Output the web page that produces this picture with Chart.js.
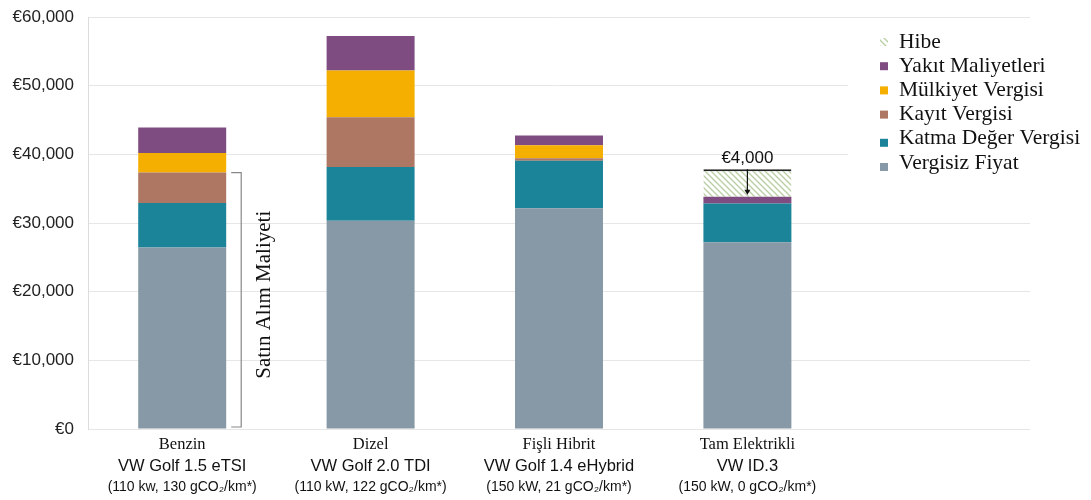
<!DOCTYPE html>
<html>
<head>
<meta charset="utf-8">
<script src="https://cdn.jsdelivr.net/npm/chart.js@4"></script>
<style>
  body { margin: 0; background: #fff; }
  #wrap { width: 1091px; height: 500px; }
</style>
</head>
<body>
<div id="wrap"><canvas id="chart"></canvas></div>
<script>
  // categories (last slot stays empty, the legend sits over it)
  const fuelTypes = ["Benzin", "Dizel", "Fişli Hibrit", "Tam Elektrikli", ""];
  const models = ["VW Golf 1.5 eTSI", "VW Golf 2.0 TDI", "VW Golf 1.4 eHybrid", "VW ID.3", ""];
  const specs = ["(110 kw, 130 gCO₂/km*)", "(110 kW, 122 gCO₂/km*)", "(150 kW, 21 gCO₂/km*)", "(150 kW, 0 gCO₂/km*)", ""];

  // series values, euro
  const vergisizFiyat = [26440, 30310, 32160, 27210, null];
  const katmaDegerVergisi = [6490, 7860, 6890, 5630, null];
  const kayitVergisi = [4420, 7230, 390, 0, null];
  const mulkiyetVergisi = [2850, 6800, 1890, 0, null];
  const yakitMaliyetleri = [3700, 5030, 1410, 1000, null];
  const hibe = [0, 0, 0, 4000, null];

  const yTicks = [0, 10000, 20000, 30000, 40000, 50000, 60000];

  const serif = "'Liberation Serif', 'DejaVu Serif', serif";
  const sans = "'Liberation Sans', Arial, sans-serif";

  // hatch for Hibe
  function makeHatch() {
    const c = document.createElement("canvas");
    c.width = 6; c.height = 6;
    const g = c.getContext("2d");
    g.fillStyle = "#ffffff";
    g.fillRect(0, 0, 6, 6);
    g.strokeStyle = "#b9cfa5";
    g.lineWidth = 1.4;
    g.beginPath();
    g.moveTo(0, 0); g.lineTo(6, 6);
    g.moveTo(-3, 3); g.lineTo(3, 9);
    g.moveTo(3, -3); g.lineTo(9, 3);
    g.stroke();
    return g.createPattern(c, "repeat");
  }
  const hatch = makeHatch();

  const series = [
    { label: "Vergisiz Fiyat", data: vergisizFiyat, color: "#8799a6" },
    { label: "Katma Değer Vergisi", data: katmaDegerVergisi, color: "#1b8499" },
    { label: "Kayıt Vergisi", data: kayitVergisi, color: "#ad7763" },
    { label: "Mülkiyet Vergisi", data: mulkiyetVergisi, color: "#f4af00" },
    { label: "Yakıt Maliyetleri", data: yakitMaliyetleri, color: "#7f4c81" },
    { label: "Hibe", data: hibe, color: hatch }
  ];

  const datasets = series.map(s => ({
    label: s.label,
    data: s.data,
    backgroundColor: s.color,
    borderWidth: 0,
    barPercentage: 0.467,
    categoryPercentage: 1
  }));
  datasets[5].borderColor = "#222";
  datasets[5].borderWidth = { top: 2, left: 0, right: 0, bottom: 0 };
  datasets[5].borderSkipped = false;

  const euro = v => "€" + v.toLocaleString("en-US");

  const extras = {
    id: "extras",
    afterDraw(chart) {
      const ctx = chart.ctx;
      const x = chart.scales.x;
      const y = chart.scales.y;
      ctx.save();

      // category labels, three lines each
      ctx.textAlign = "center";
      ctx.textBaseline = "middle";
      ctx.fillStyle = "#111";
      fuelTypes.forEach((f, i) => {
        const px = x.getPixelForValue(i);
        ctx.font = "16.5px " + serif;
        ctx.fillText(f, px, 445);
        ctx.font = "16.5px " + sans;
        ctx.fillText(models[i], px, 466);
        ctx.font = "14px " + sans;
        ctx.fillText(specs[i], px, 487);
      });

      // bracket for purchase cost of first car
      const top = y.getPixelForValue(vergisizFiyat[0] + katmaDegerVergisi[0] + kayitVergisi[0]);
      const bottom = y.getPixelForValue(0) - 2;
      const bx = x.getPixelForValue(0) + 59;
      ctx.strokeStyle = "#888";
      ctx.lineWidth = 1.2;
      ctx.beginPath();
      ctx.moveTo(bx - 10, top);
      ctx.lineTo(bx, top);
      ctx.lineTo(bx, bottom);
      ctx.lineTo(bx - 10, bottom);
      ctx.stroke();
      ctx.save();
      ctx.translate(bx + 23, (top + bottom) / 2 - 5);
      ctx.rotate(-Math.PI / 2);
      ctx.fillStyle = "#111";
      ctx.font = "21px " + serif;
      ctx.fillText("Satın Alım Maliyeti", 0, 0);
      ctx.restore();

      // grant arrow and label
      const el = chart.getDatasetMeta(5).data[3];
      ctx.strokeStyle = "#111";
      ctx.fillStyle = "#111";
      ctx.lineWidth = 1.2;
      ctx.beginPath();
      ctx.moveTo(el.x, el.y);
      ctx.lineTo(el.x, el.base - 5);
      ctx.stroke();
      ctx.beginPath();
      ctx.moveTo(el.x - 3, el.base - 7);
      ctx.lineTo(el.x + 3, el.base - 7);
      ctx.lineTo(el.x, el.base - 2);
      ctx.closePath();
      ctx.fill();
      ctx.font = "17px " + sans;
      ctx.fillText(euro(hibe[3]), el.x, el.y - 11);

      // legend over the empty right part
      ctx.fillStyle = "#fff";
      ctx.fillRect(848, 26, 182, 180);
      ctx.textAlign = "left";
      const items = series.slice().reverse();
      items.forEach((s, i) => {
        const ly = 42 + i * 24.2;
        ctx.fillStyle = s.color;
        ctx.fillRect(880, ly - 4 + (i >= 4 ? 4 : 0), 8, 8);
        ctx.fillStyle = "#111";
        ctx.font = "21.5px " + serif;
        ctx.fillText(s.label, 899, ly);
      });

      ctx.restore();
    }
  };

  new Chart(document.getElementById("chart"), {
    type: "bar",
    data: { labels: fuelTypes, datasets: datasets },
    options: {
      responsive: true,
      maintainAspectRatio: false,
      animation: false,
      layout: { padding: { top: 17, right: 61, bottom: 63, left: 0 } },
      plugins: { legend: { display: false }, tooltip: { enabled: false } },
      scales: {
        x: {
          stacked: true,
          grid: { display: false },
          border: { display: false },
          ticks: { display: false }
        },
        y: {
          stacked: true,
          min: 0,
          max: 60000,
          afterBuildTicks: s => { s.ticks = yTicks.map(v => ({ value: v })); },
          afterFit: s => { s.width = 88; s.paddingTop = 0; s.paddingBottom = 0; },
          ticks: {
            callback: v => euro(v),
            color: "#222",
            padding: 14,
            font: { family: sans, size: 17 }
          },
          grid: { color: "#e6e6e6", drawTicks: false },
          border: { color: "#dcdcdc" }
        }
      }
    },
    plugins: [extras]
  });
</script>
</body>
</html>
